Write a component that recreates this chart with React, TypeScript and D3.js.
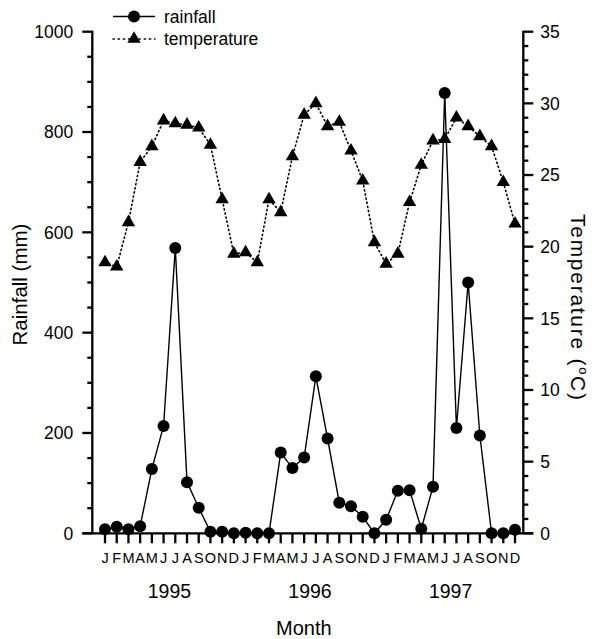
import React from "react";
import * as d3 from "d3";

const months = ["J","F","M","A","M","J","J","A","S","O","N","D"];
const years = ["1995", "1996", "1997"];
const rainfall = [8,13,8,14,128,214,569,102,51,3,3,0, 1,0,0,161,130,151,313,189,61,54,33,0, 27,85,86,9,93,878,210,500,195,0,0,7];
const temperature = [18.9,18.6,21.7,25.9,27.0,28.8,28.6,28.5,28.3,27.1,23.3,19.5, 19.6,18.9,23.3,22.4,26.3,29.2,30.0,28.4,28.7,26.7,24.6,20.3, 18.8,19.5,23.1,25.7,27.4,27.5,29.0,28.4,27.7,27.0,24.5,21.6];
const rainTicks = [0,200,400,600,800,1000];
const tempTicks = [0,5,10,15,20,25,30,35];

const W = 594, H = 639;
const left = 92.3, right = 523.3, top = 31.7, bottom = 533.3;
const FONT = "'Liberation Sans', Arial, Helvetica, sans-serif";

export default function App() {
  const n = rainfall.length;
  const x = d3.scaleLinear().domain([0, n - 1]).range([105, 515]);
  const yR = d3.scaleLinear().domain([0, 1000]).range([bottom, top]);
  const yT = d3.scaleLinear().domain([0, 35]).range([bottom, top]);
  const idx = d3.range(n);
  const rainLine = d3.line<number>().x(i => x(i)).y(i => yR(rainfall[i]))(idx) || "";
  const tempLine = d3.line<number>().x(i => x(i)).y(i => yT(temperature[i]))(idx) || "";
  const tri = d3.symbol().type(d3.symbolTriangle).size(78)() || "";
  const rainMinor = d3.range(0, 1001, 50);
  const tempMinor = d3.range(0, 36, 1);
  const monthLabels = idx.map(i => months[i % 12]);
  const sw = 2.3;

  return (
    <svg width={W} height={H} style={{ position: "absolute", left: 0, top: 0, background: "#fff" }} fontFamily={FONT}>
      <rect width={W} height={H} fill="#fff" />
      <line x1={left} x2={left} y1={top - 1} y2={bottom} stroke="#000" strokeWidth={sw} />
      <line x1={right} x2={right} y1={top - 1} y2={bottom} stroke="#000" strokeWidth={sw} />
      <line x1={left - 10} x2={right + 10} y1={bottom} y2={bottom} stroke="#000" strokeWidth={sw} />
      {rainMinor.map(v => (
        <line key={"lm" + v} x1={left} x2={left - (v % 200 === 0 ? 10 : 5)} y1={yR(v)} y2={yR(v)} stroke="#000" strokeWidth={sw} />
      ))}
      {rainTicks.map(v => (
        <text key={"lt" + v} x={left - 19} y={yR(v)} dy="0.36em" textAnchor="end" fontSize={17.5}>{v}</text>
      ))}
      {tempMinor.map(v => (
        <line key={"rm" + v} x1={right} x2={right + (v % 5 === 0 ? 10 : 5)} y1={yT(v)} y2={yT(v)} stroke="#000" strokeWidth={sw} />
      ))}
      {tempTicks.map(v => (
        <text key={"rt" + v} x={right + 17} y={yT(v)} dy="0.36em" textAnchor="start" fontSize={17.5}>{v}</text>
      ))}
      {idx.map(i => (
        <line key={"bt" + i} x1={x(i)} x2={x(i)} y1={bottom} y2={bottom + 10} stroke="#000" strokeWidth={sw} />
      ))}
      {monthLabels.map((m, i) => (
        <text key={"ml" + i} x={x(i)} y={563} textAnchor="middle" fontSize={14.5}>{m}</text>
      ))}
      {years.map((yv, k) => (
        <text key={"yr" + k} x={x(k * 12 + 5.5)} y={598} textAnchor="middle" fontSize={19.5}>{yv}</text>
      ))}
      <text x={(left + right) / 2 - 4} y={635} textAnchor="middle" fontSize={20}>Month</text>
      <text transform={`translate(27,${(top + bottom) / 2 + 2}) rotate(-90)`} textAnchor="middle" fontSize={20.5}>Rainfall (mm)</text>
      <text transform={`translate(571,307) rotate(90)`} textAnchor="middle" fontSize={21} textLength={186} lengthAdjust="spacing">
        Temperature (<tspan fontSize={13} dy="-8">o</tspan><tspan dy="8">C)</tspan>
      </text>
      <path d={tempLine} fill="none" stroke="#000" strokeWidth={1.6} strokeDasharray="1.2 3" strokeLinecap="round" />
      {idx.map(i => (
        <path key={"tp" + i} d={tri} transform={`translate(${x(i)},${yT(temperature[i])})`} fill="#000" />
      ))}
      <path d={rainLine} fill="none" stroke="#000" strokeWidth={1.4} />
      {idx.map(i => (
        <circle key={"rp" + i} cx={x(i)} cy={yR(rainfall[i])} r={6} fill="#000" />
      ))}
      <line x1={113} x2={155} y1={16.5} y2={16.5} stroke="#000" strokeWidth={1.4} />
      <circle cx={134} cy={16.5} r={6} fill="#000" />
      <text x={164} y={22.5} fontSize={17.5}>rainfall</text>
      <line x1={113} x2={155} y1={39} y2={39} stroke="#000" strokeWidth={1.6} strokeDasharray="1.2 4" strokeLinecap="round" />
      <path d={tri} transform="translate(134,39)" fill="#000" />
      <text x={164} y={45} fontSize={17.5}>temperature</text>
    </svg>
  );
}
